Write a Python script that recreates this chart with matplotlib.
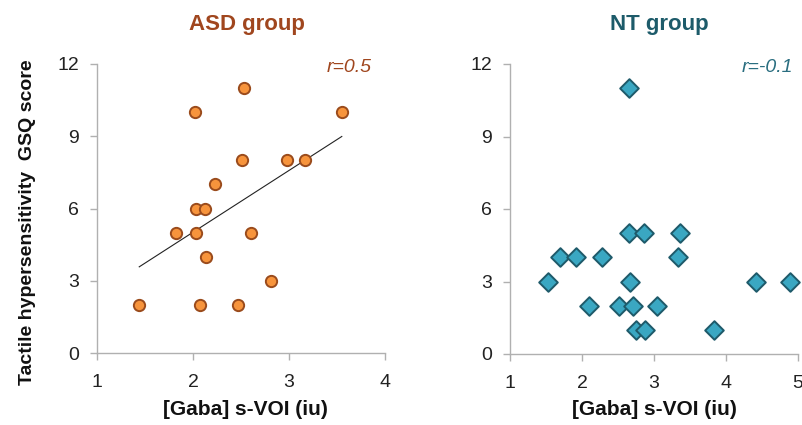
import numpy as np
import matplotlib
matplotlib.use("Agg")
import matplotlib.pyplot as plt

# ---- data ----
asd_gaba = [2.53, 2.02, 3.55, 2.51, 2.98, 3.17, 2.23, 2.03, 2.13, 1.82, 2.03, 2.60, 2.14, 2.81, 1.44, 2.07, 2.47]
asd_gsq  = [11, 10, 10, 8, 8, 8, 7, 6, 6, 5, 5, 5, 4, 3, 2, 2, 2]

nt_gaba = [2.65, 2.65, 2.86, 3.36, 1.70, 1.92, 2.28, 3.34, 1.53, 2.66, 4.41, 4.89, 2.10, 2.51, 2.71, 3.04, 2.75, 2.87, 3.84]
nt_gsq  = [11, 5, 5, 5, 4, 4, 4, 4, 3, 3, 3, 3, 2, 2, 2, 2, 1, 1, 1]

asd_xticks = [1, 2, 3, 4]
nt_xticks = [1, 2, 3, 4, 5]
yticks = [0, 3, 6, 9, 12]

titles = ["ASD group", "NT group"]
r_labels = ["r=0.5", "r=-0.1"]
xlabel = "[Gaba] s-VOI (iu)"
ylabel = "Tactile hypersensitivity  GSQ score"

# ---- style ----
plt.rcParams['font.family'] = ['Liberation Sans', 'DejaVu Sans']
W, H = 803, 425
fig = plt.figure(figsize=(W / 100, H / 100), dpi=100)

asd_title_c = "#A0461E"
nt_title_c = "#1D5B6A"
spine_c = "#B0B0B0"

def px_ax(x0, y0, x1, y1):
    return fig.add_axes([x0 / W, 1 - y1 / H, (x1 - x0) / W, (y1 - y0) / H])

ax1 = px_ax(97, 64, 385, 353)
ax2 = px_ax(510, 64, 798, 354)

for ax, xt in ((ax1, asd_xticks), (ax2, nt_xticks)):
    ax.set_xlim(xt[0], xt[-1])
    ax.set_ylim(0, 12)
    ax.set_xticks(xt)
    ax.set_yticks(yticks)
    for s in ("top", "right"):
        ax.spines[s].set_visible(False)
    for s in ("left", "bottom"):
        ax.spines[s].set_color(spine_c)
        ax.spines[s].set_linewidth(1.0)
    ax.tick_params(axis="both", direction="out", length=5, width=1.0,
                   color=spine_c, labelsize=14, labelcolor="#222222")
    ax.tick_params(axis="x", pad=10)
    ax.tick_params(axis="y", pad=8)
    for lab in ax.get_xticklabels() + ax.get_yticklabels():
        lab.set_clip_on(False)

# ASD scatter
ax1.scatter(asd_gaba, asd_gsq, s=66, marker="o", facecolor="#F7943C",
            edgecolor="#9A4B1C", linewidth=1.4, zorder=3, clip_on=False)
# regression line
coef = np.polyfit(asd_gaba, asd_gsq, 1)
fx = np.array([min(asd_gaba), max(asd_gaba)])
ax1.plot(fx, np.polyval(coef, fx), color="#222222", lw=0.8, zorder=2)

# NT scatter
ax2.scatter(nt_gaba, nt_gsq, s=90, marker="D", facecolor="#3AA7C2",
            edgecolor="#1E5A6A", linewidth=1.4, zorder=3, clip_on=False)

# titles
fig.text(246.5 / W, 1 - 30 / H, titles[0], ha="center", va="baseline",
         fontsize=16, fontweight="bold", color=asd_title_c)
fig.text(659.5 / W, 1 - 30 / H, titles[1], ha="center", va="baseline",
         fontsize=16, fontweight="bold", color=nt_title_c)

# r labels
fig.text(372 / W, 1 - 72 / H, r_labels[0], ha="right", va="baseline",
         fontsize=14, style="italic", color=asd_title_c)
fig.text(793 / W, 1 - 72 / H, r_labels[1], ha="right", va="baseline",
         fontsize=14, style="italic", color="#2A6E80")

# x labels
fig.text(245.5 / W, 1 - 415 / H, xlabel, ha="center", va="baseline",
         fontsize=15, fontweight="bold", color="#111111")
fig.text(654 / W, 1 - 415 / H, xlabel, ha="center", va="baseline",
         fontsize=15, fontweight="bold", color="#111111")

# y label
fig.text(28 / W, 1 - 222 / H, ylabel, ha="center", va="center", rotation=90,
         fontsize=14, fontweight="bold", color="#111111")

fig.savefig("out.png", dpi=100)
